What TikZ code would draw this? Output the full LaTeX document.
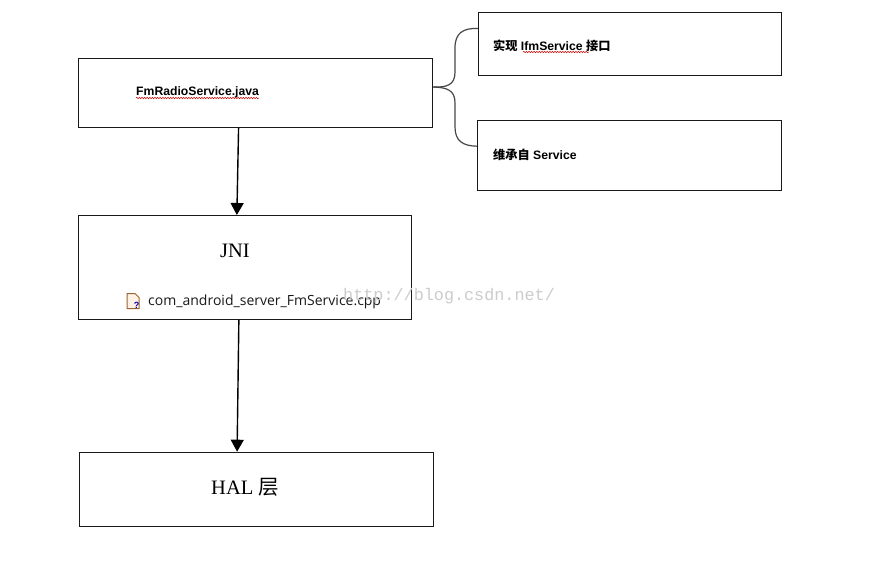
\documentclass[tikz,border=0pt]{standalone}
\usepackage{fontspec}
\setmainfont{Liberation Sans}
\newfontfamily\serifF{Liberation Serif}
\newfontfamily\monoF{Liberation Mono}
\newfontfamily\openF{Open Sans}
\newfontfamily\cjk{Noto Sans CJK SC}
\usetikzlibrary{arrows.meta,decorations.pathmorphing,calc}
\definecolor{edgegray}{RGB}{25,25,25}
\tikzset{
  x=1pt,y=-1pt,
  boxnode/.style={draw=edgegray,line width=1.25pt,fill=white,inner sep=0pt,anchor=north west},
  flow/.style={draw=black,line width=1.4pt,-{Triangle[length=12pt,width=13pt]}},
  bracecurve/.style={draw=edgegray!80,line width=1.2pt},
  lab/.style={inner sep=0pt,anchor=west,text=black},
  squiggle/.style={draw=red!80!black,line width=0.5pt,decorate,decoration={snake,amplitude=0.7pt,segment length=2.6pt}},
}
\begin{document}
\begin{tikzpicture}
\useasboundingbox (0,0) rectangle (880,571);
\fill[white] (0,0) rectangle (880,571);
% boxes
\node[boxnode,minimum width=354pt,minimum height=69pt] (fm) at (78,57.5) {};
\node[boxnode,minimum width=332.5pt,minimum height=103.5pt] (jni) at (78,215) {};
\node[boxnode,minimum width=354pt,minimum height=74pt] (hal) at (79,451.7) {};
\node[boxnode,minimum width=302.5pt,minimum height=63pt] (impl) at (478,11.7) {};
\node[boxnode,minimum width=303.5pt,minimum height=69.5pt] (ext) at (477,120) {};
% labels
\node[lab,font=\bfseries\fontsize{12.2}{12}\selectfont] (fmlab) at (136,92.5) {FmRadioService.java};
\coordinate (fms) at (136,98);
\coordinate (fme) at (259,98);
\draw[squiggle] (fms) -- (fme);
\node[lab,font=\serifF\fontsize{20.5}{18}\selectfont] (jnilab) at (220,250.5) {JNI};
\node[lab,font=\openF\fontsize{14}{14}\selectfont,text=black!90] (cpp) at (148,302) {com\_android\_server\_FmService.cpp};
\node[lab,font=\serifF\fontsize{20.5}{20}\selectfont] (hallab) at (211,487) {HAL {\cjk 层}};
\node[lab,font=\bfseries\fontsize{12.2}{12}\selectfont] (impllab) at (493,46) {{\cjk 实现} IfmService {\cjk 接口}};
\coordinate (ims) at (523,52);
\coordinate (ime) at (589,52);
\draw[squiggle] (ims) -- (ime);
\node[lab,font=\bfseries\fontsize{12.2}{12}\selectfont] (extlab) at (493,155) {{\cjk 维承自} Service};
% file icon
\coordinate (ic) at (127,293.5);
\draw[draw=brown!80!black,fill=orange!10,line width=1pt] (ic) -- ++(8,0) -- ++(4,4) -- ++(0,11) -- ++(-12,0) -- cycle;
\node[inner sep=0pt,font=\bfseries\fontsize{9}{9}\selectfont,text=blue!70!black] (qm) at (136.5,305) {?};
% watermark
\node[lab,font=\monoF\fontsize{16.8}{17}\selectfont,text=black!20] (mark) at (343,296.5) {http://blog.csdn.net/};
% connectors
\coordinate (a1) at ($(fm.south west)!0.452!(fm.south east)$);
\coordinate (a2) at ($(jni.north west)!0.476!(jni.north east)$);
\coordinate (b1) at ($(jni.south west)!0.482!(jni.south east)$);
\coordinate (b2) at ($(hal.north west)!0.445!(hal.north east)$);
\draw[flow] (a1) -- (a2);
\draw[flow] (b1) -- (b2);
\coordinate (br) at ($(fm.south east)!0.58!(fm.north east)$);
\coordinate (im) at ($(impl.north west)!0.26!(impl.south west)$);
\coordinate (ex) at ($(ext.north west)!0.37!(ext.south west)$);
\draw[bracecurve] (br) .. controls (447,87.5) and (455,85) .. (455,72) -- (455,48) .. controls (455,33) and (463,28) .. (im);
\draw[bracecurve] (br) .. controls (447,87.5) and (455,90) .. (455,103) -- (455,127) .. controls (455,141) and (463,146) .. (ex);
\end{tikzpicture}
\end{document}
